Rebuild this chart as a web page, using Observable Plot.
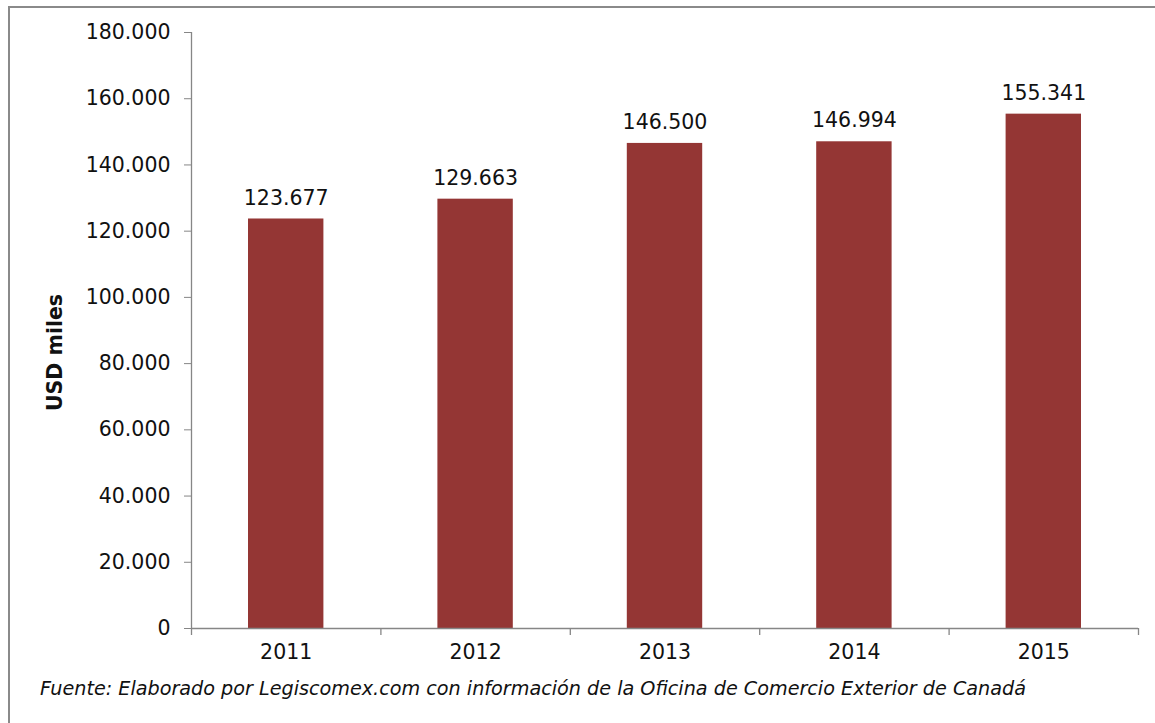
<!DOCTYPE html>
<html>
<head>
<meta charset="utf-8">
<script src="https://cdn.jsdelivr.net/npm/d3@7"></script>
<script src="https://cdn.jsdelivr.net/npm/@observablehq/plot@0.6"></script>
<style>
  html, body { margin: 0; padding: 0; background: #fff; }
  #wrap { position: relative; width: 1155px; height: 723px; overflow: hidden; background: #fff; }
  #frame { position: absolute; left: 8px; top: 6px; width: 1160px; height: 730px; border-left: 2px solid #8a8a8a; border-top: 2px solid #8a8a8a; box-sizing: border-box; }
  #chart { position: absolute; left: 0; top: 0; }
  #caption { position: absolute; left: 40px; top: 677px; font-family: "DejaVu Sans", Verdana, sans-serif; font-style: italic; font-size: 19.2px; color: #111; white-space: nowrap; }
</style>
</head>
<body>
<div id="wrap">
  <div id="frame"></div>
  <div id="chart"></div>
  <div id="caption"></div>
</div>
<script>
const years = ["2011", "2012", "2013", "2014", "2015"];
const values = [123677, 129663, 146500, 146994, 155341];
const yTicks = [0, 20000, 40000, 60000, 80000, 100000, 120000, 140000, 160000, 180000];
const yLabel = "USD miles";
const captionText = "Fuente: Elaborado por Legiscomex.com con información de la Oficina de Comercio Exterior de Canadá";

const fmt = d3.formatLocale({decimal: ",", thousands: ".", grouping: [3], currency: ["", ""]}).format(",d");

const data = years.map((y, i) => ({year: y, i, value: values[i]}));
const boundaries = d3.range(years.length + 1);

const font = "'DejaVu Sans', Verdana, sans-serif";
const gray = "#868686";
const fs = 20.5;

const chart = Plot.plot({
  width: 1155,
  height: 680,
  marginLeft: 191,
  marginRight: 17,
  marginTop: 32,
  marginBottom: 52,
  style: {fontFamily: font, fontSize: fs + "px", color: "#111", background: "transparent"},
  x: {type: "linear", domain: [0, years.length], axis: null},
  y: {type: "linear", domain: [0, 180000], axis: null},
  marks: [
    Plot.rectY(data, {x1: d => d.i, x2: d => d.i + 1, y: "value", fill: "#943634", insetLeft: 57, insetRight: 57}),
    Plot.text(data, {x: d => d.i + 0.5, y: "value", text: d => fmt(d.value), dy: -21, fill: "#111", fontSize: fs}),
    Plot.text(data, {x: d => d.i + 0.5, text: "year", frameAnchor: "bottom", dy: 30, fill: "#111", fontSize: fs}),
    Plot.ruleY([0], {stroke: gray, strokeWidth: 1.3}),
    Plot.ruleX([0], {stroke: gray, strokeWidth: 1.3}),
    Plot.axisX({ticks: boundaries, tickFormat: () => "", tickSize: 7, stroke: gray, strokeWidth: 1.3, label: null}),
    Plot.axisY({ticks: yTicks, tickFormat: fmt, tickSize: 7, tickPadding: 14, stroke: gray, fill: "#111", fontSize: fs, label: null}),
    Plot.text([yLabel], {frameAnchor: "left", textAnchor: "middle", rotate: -90, dx: -136, dy: 22, fontWeight: "bold", fontSize: 20.5, fill: "#111"})
  ]
});
document.getElementById("chart").appendChild(chart);
document.getElementById("caption").textContent = captionText;
</script>
</body>
</html>
